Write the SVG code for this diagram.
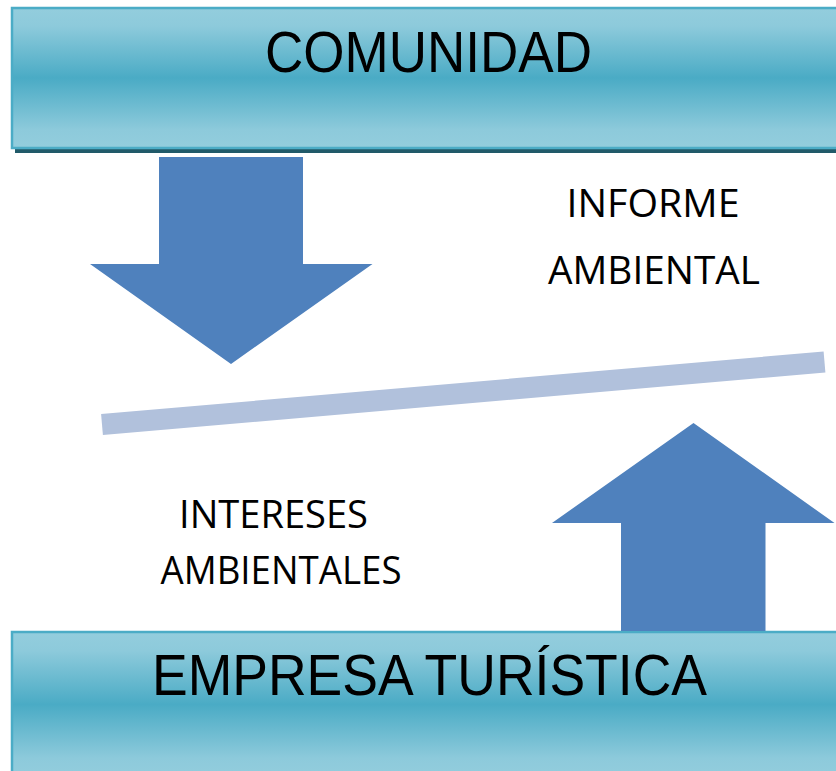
<svg xmlns="http://www.w3.org/2000/svg" width="836" height="771" viewBox="0 0 836 771">
  <defs>
    <linearGradient id="boxGrad" x1="0" y1="0" x2="0" y2="1">
      <stop offset="0" stop-color="#93cddd"/>
      <stop offset="0.13" stop-color="#8dcadb"/>
      <stop offset="0.5" stop-color="#4aabc5"/>
      <stop offset="0.87" stop-color="#8dcadb"/>
      <stop offset="1" stop-color="#93cddd"/>
    </linearGradient>
  </defs>
  <style>
    .box { fill: url(#boxGrad); stroke: #4bacc6; stroke-width: 2.5; }
    .shadow { fill: #215a69; }
    .arrow { fill: #4f81bd; }
    .title { font-family: "Liberation Sans Narrow", "Liberation Sans", Arial, sans-serif; font-size: 58px; fill: #000; }
    .label { font-family: "Open Sans", "Liberation Sans", sans-serif; font-size: 37.5px; fill: #000; }
  </style>
  <rect width="836" height="771" fill="#ffffff"/>

  <g id="comunidad">
    <rect class="shadow" x="15" y="148" width="830" height="5"/>
    <rect class="box" x="12" y="8" width="834" height="140"/>
    <text class="title" x="265" y="72" textLength="327" lengthAdjust="spacingAndGlyphs">COMUNIDAD</text>
  </g>

  <g id="empresa">
    <rect class="box" x="12" y="632" width="834" height="145"/>
    <text class="title" x="152" y="695" textLength="555" lengthAdjust="spacingAndGlyphs">EMPRESA TURÍSTICA</text>
  </g>

  <g id="connectors">
    <polygon id="arrow-down" class="arrow" points="159,157 303,157 303,264 372.5,264 231,364 90,264 159,264"/>
    <polygon id="arrow-up" class="arrow" points="621,631 765.5,631 765.5,523 834.5,523 693.5,423 552,523 621,523"/>
    <line id="balance" x1="102" y1="424.5" x2="824.5" y2="362" stroke="#b1c1dc" stroke-width="21"/>
  </g>

  <g id="informe">
    <text class="label" x="566.5" y="216.5" textLength="173" lengthAdjust="spacingAndGlyphs">INFORME</text>
    <text class="label" x="548" y="283.5" textLength="212" lengthAdjust="spacingAndGlyphs">AMBIENTAL</text>
  </g>

  <g id="intereses">
    <text class="label" x="179" y="527.5" textLength="189" lengthAdjust="spacingAndGlyphs">INTERESES</text>
    <text class="label" x="160.5" y="583.5" textLength="241" lengthAdjust="spacingAndGlyphs">AMBIENTALES</text>
  </g>
</svg>
